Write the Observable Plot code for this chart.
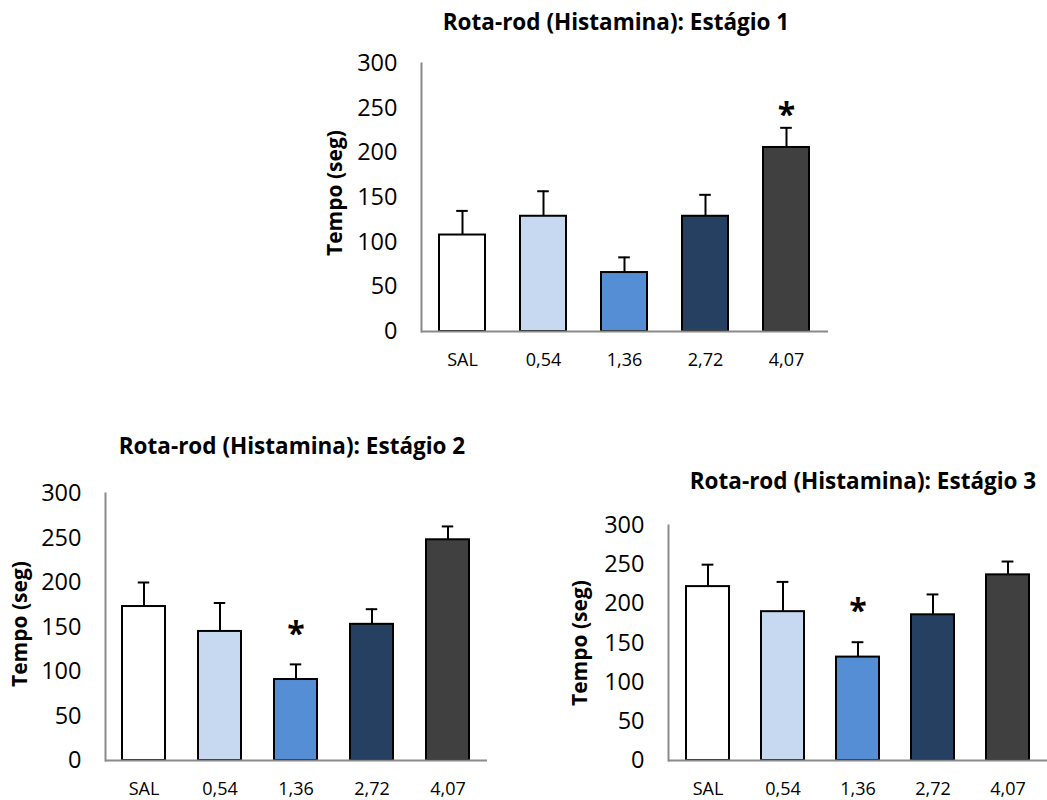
<!DOCTYPE html>
<html>
<head>
<meta charset="utf-8">
<script src="https://cdn.jsdelivr.net/npm/d3@7"></script>
<script src="https://cdn.jsdelivr.net/npm/@observablehq/plot@0.6"></script>
<style>
  html, body { margin: 0; padding: 0; background: #fff; }
  #root { position: relative; width: 1047px; height: 800px; overflow: hidden; font-family: "Open Sans", sans-serif; color: #000; }
  .panel-svg { position: absolute; }
  .title { position: absolute; font-weight: bold; font-size: 22.5px; line-height: 22px; text-align: center; white-space: nowrap; color: #000; }
  .ylabel { position: absolute; font-weight: bold; font-size: 21px; line-height: 21px; white-space: nowrap; transform: translate(-50%, -50%) rotate(-90deg); color: #000; }
</style>
</head>
<body>
<div id="root"></div>
<script>
// ---- data ----
const categories = ["SAL", "0,54", "1,36", "2,72", "4,07"];
const barColors = ["#ffffff", "#c6d9f1", "#558ed5", "#254061", "#404040"];
const yTicks = [0, 50, 100, 150, 200, 250, 300];

const titles = [
  "Rota-rod (Histamina): Estágio 1",
  "Rota-rod (Histamina): Estágio 2",
  "Rota-rod (Histamina): Estágio 3"
];
const yLabel = "Tempo (seg)";

const stage1Mean = [108, 129, 66, 129, 206];
const stage1Err  = [27, 28, 17, 24, 22];
const stage2Mean = [173, 145, 91, 153, 248];
const stage2Err  = [27, 32, 17, 17, 15];
const stage3Mean = [222, 190, 132, 186, 237];
const stage3Err  = [28, 38, 19, 26, 17];

// significance markers: category and vertical position (seconds)
const sig1 = [{cat: "4,07", y: 250}];
const sig2 = [{cat: "1,36", y: 150}];
const sig3 = [{cat: "1,36", y: 200}];

// ---- layout (pixels) ----
const layouts = [
  {left: 320, top: 40,  width: 520, height: 340, mL: 101, mR: 12, mT: 23, mB: 49,
   title: {cx: 616, top: 10.5}, ylab: {cx: 334, cy: 193}},
  {left: 0,   top: 440, width: 500, height: 360, mL: 105, mR: 13, mT: 53, mB: 40,
   title: {cx: 292, top: 435}, ylab: {cx: 19, cy: 624}},
  {left: 560, top: 480, width: 487, height: 320, mL: 108, mR: 0, mT: 45, mB: 40,
   title: {cx: 863, top: 470}, ylab: {cx: 579, cy: 642.5}}
];

const stages = [
  {mean: stage1Mean, err: stage1Err, sig: sig1},
  {mean: stage2Mean, err: stage2Err, sig: sig2},
  {mean: stage3Mean, err: stage3Err, sig: sig3}
];

const root = document.getElementById("root");
const padInner = 0.43;
const capWidth = 12;

stages.forEach((s, k) => {
  const L = layouts[k];
  const rows = categories.map((c, i) => ({cat: c, mean: s.mean[i], err: s.err[i]}));
  const frameW = L.width - L.mL - L.mR;
  const bw = frameW / categories.length * (1 - padInner);
  const inset = (bw - capWidth) / 2;

  const chart = Plot.plot({
    width: L.width,
    height: L.height,
    marginLeft: L.mL, marginRight: L.mR, marginTop: L.mT, marginBottom: L.mB,
    style: {fontFamily: "Open Sans", color: "#000", background: "transparent", overflow: "visible"},
    x: {domain: categories, paddingInner: padInner, paddingOuter: padInner / 2, axis: null},
    y: {domain: [0, 300], axis: null},
    color: {domain: categories, range: barColors},
    marks: [
      Plot.barY(rows, {x: "cat", y: "mean", fill: "cat", stroke: "#000", strokeWidth: 2}),
      Plot.ruleX(rows, {x: "cat", y1: "mean", y2: d => d.mean + d.err, stroke: "#000", strokeWidth: 2}),
      Plot.tickY(rows, {x: "cat", y: d => d.mean + d.err, stroke: "#000", strokeWidth: 2, insetLeft: inset, insetRight: inset}),
      Plot.text(s.sig, {x: "cat", y: "y", text: () => "*", fontSize: 32, fontWeight: "bold", dy: 8}),
      Plot.frame({anchor: "left", stroke: "#8a8a8a", strokeWidth: 2}),
      Plot.ruleY([0], {stroke: "#8a8a8a", strokeWidth: 2}),
      Plot.axisX({tickSize: 0, tickPadding: 22, fontSize: 18, label: null}),
      Plot.axisY({ticks: yTicks, tickSize: 0, tickPadding: 24, fontSize: 23.5, label: null, tickFormat: d => String(d)})
    ]
  });
  chart.classList.add("panel-svg");
  chart.style.left = L.left + "px";
  chart.style.top = L.top + "px";
  root.appendChild(chart);

  const t = document.createElement("div");
  t.className = "title";
  t.textContent = titles[k];
  t.style.width = "500px";
  t.style.left = (L.title.cx - 250) + "px";
  t.style.top = L.title.top + "px";
  root.appendChild(t);

  const yl = document.createElement("div");
  yl.className = "ylabel";
  yl.textContent = yLabel;
  yl.style.left = L.ylab.cx + "px";
  yl.style.top = L.ylab.cy + "px";
  root.appendChild(yl);
});
</script>
</body>
</html>
